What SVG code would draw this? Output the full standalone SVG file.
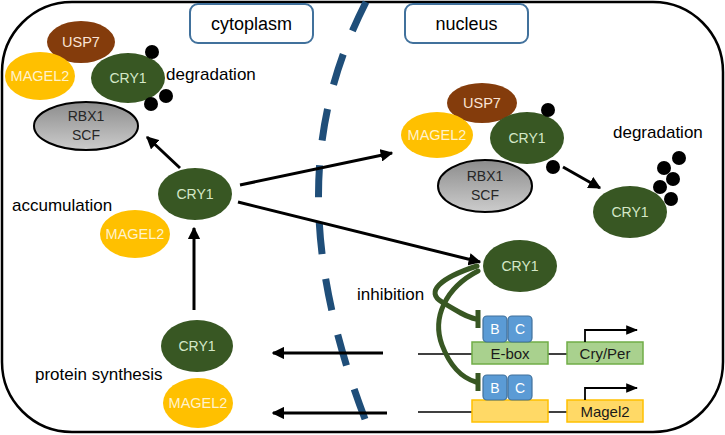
<svg xmlns="http://www.w3.org/2000/svg" width="725" height="435" viewBox="0 0 725 435">
<defs>
<linearGradient id="gray" x1="0" y1="0" x2="0" y2="1">
<stop offset="0" stop-color="#8c8c8c"/>
<stop offset="1" stop-color="#cccccc"/>
</linearGradient>
<marker id="ah" viewBox="0 0 10 10" refX="9" refY="5" markerWidth="4.2" markerHeight="4.2" orient="auto" markerUnits="strokeWidth">
<path d="M0,0 L10,5 L0,10 z" fill="#000"/>
</marker>
<marker id="ah2" viewBox="0 0 10 10" refX="9" refY="5" markerWidth="12" markerHeight="12" orient="auto" markerUnits="userSpaceOnUse">
<path d="M0,1 L10,5 L0,9 z" fill="#000"/>
</marker>
</defs>
<style>
text{font-family:"Liberation Sans",Arial,sans-serif;}
.lbl{font-size:17px;fill:#000;}
.big{font-size:18px;fill:#000;text-anchor:middle;}
.cry ellipse{fill:#385723;}
.cry text{fill:#d5e8c8;font-size:14px;text-anchor:middle;}
.mag ellipse{fill:#ffc000;}
.mag text{fill:#fff2cc;font-size:14.5px;text-anchor:middle;}
.usp ellipse{fill:#843c0c;}
.usp text{fill:#fbe5d6;font-size:14.5px;text-anchor:middle;}
.rbx ellipse{fill:url(#gray);stroke:#000;stroke-width:2;}
.rbx text{fill:#262626;font-size:14px;text-anchor:middle;}
.dot{fill:#000;}
.arr{stroke:#000;stroke-width:3;fill:none;marker-end:url(#ah);}
.dna{stroke:#000;stroke-width:1.5;fill:none;}
.bc rect{fill:#5b9bd5;stroke:#41719c;stroke-width:1.2;}
.bc text{fill:#fff;font-size:14px;text-anchor:middle;}
.gbox rect{fill:#a9d18e;stroke:#70ad47;stroke-width:1.5;}
.obox rect{fill:#ffd966;stroke:#ffc000;stroke-width:1.5;}
.box text{fill:#1a1a1a;font-size:15px;text-anchor:middle;}
.inh{stroke:#385723;stroke-width:5;fill:none;stroke-linecap:round;}
.tbar{stroke:#385723;stroke-width:5;}
.tag rect{fill:#fff;stroke:#41719c;stroke-width:2;}
</style>

<rect id="cell" x="2" y="2" width="721" height="430" rx="70" ry="70" fill="#fff" stroke="#000" stroke-width="2.5"/>

<path id="nuclear-membrane" d="M366 2 C306 120, 298 250, 370 432" fill="none" stroke="#1f4e79" stroke-width="7" stroke-dasharray="32 25"/>

<g id="label-cytoplasm" class="tag"><rect x="190" y="4" width="123" height="39" rx="8"/><text class="big" x="251.5" y="30">cytoplasm</text></g>
<g id="label-nucleus" class="tag"><rect x="405" y="4" width="123" height="39" rx="8"/><text class="big" x="466.5" y="30">nucleus</text></g>

<!-- top-left degradation complex -->
<g id="usp7-a" class="usp"><ellipse cx="81" cy="42" rx="34" ry="21"/><text x="81" y="47">USP7</text></g>
<g id="magel2-a" class="mag"><ellipse cx="40" cy="76" rx="35" ry="24"/><text x="40" y="81">MAGEL2</text></g>
<g id="cry1-a" class="cry"><ellipse cx="128" cy="78" rx="37" ry="25"/><text x="128" y="83">CRY1</text></g>
<g id="rbx1-a" class="rbx"><ellipse cx="86" cy="126" rx="52" ry="24"/><text x="86" y="121">RBX1</text><text x="86" y="140">SCF</text></g>
<g id="ub-a"><circle class="dot" cx="152" cy="52" r="7"/><circle class="dot" cx="166" cy="96" r="7"/><circle class="dot" cx="151" cy="104" r="7"/></g>
<text class="lbl" x="166" y="80">degradation</text>

<!-- middle cytoplasm -->
<g id="cry1-mid" class="cry"><ellipse cx="195" cy="194" rx="37" ry="26"/><text x="195" y="199">CRY1</text></g>
<g id="magel2-mid" class="mag"><ellipse cx="135" cy="234" rx="35" ry="24"/><text x="135" y="239">MAGEL2</text></g>
<text class="lbl" x="12" y="211">accumulation</text>

<!-- synthesis -->
<g id="cry1-syn" class="cry"><ellipse cx="197" cy="346" rx="36" ry="26"/><text x="197" y="351">CRY1</text></g>
<g id="magel2-syn" class="mag"><ellipse cx="198" cy="403" rx="35" ry="25"/><text x="198" y="408">MAGEL2</text></g>
<text class="lbl" x="35" y="380">protein synthesis</text>

<!-- nucleus degradation complex -->
<g id="usp7-b" class="usp"><ellipse cx="482" cy="103" rx="35" ry="20"/><text x="482" y="108">USP7</text></g>
<g id="magel2-b" class="mag"><ellipse cx="437" cy="135" rx="36" ry="23"/><text x="437" y="140">MAGEL2</text></g>
<g id="cry1-b" class="cry"><ellipse cx="527" cy="138" rx="37" ry="26"/><text x="527" y="143">CRY1</text></g>
<g id="rbx1-b" class="rbx"><ellipse cx="485" cy="186" rx="47" ry="26"/><text x="485" y="181">RBX1</text><text x="485" y="200">SCF</text></g>
<g id="ub-b"><circle class="dot" cx="548" cy="110" r="7"/><circle class="dot" cx="553" cy="167" r="7"/></g>
<text class="lbl" x="613" y="138">degradation</text>

<g id="cry1-deg" class="cry"><ellipse cx="630" cy="212" rx="37" ry="26"/><text x="630" y="217">CRY1</text></g>
<g id="ub-c"><circle class="dot" cx="679" cy="158" r="7"/><circle class="dot" cx="664" cy="168" r="7"/><circle class="dot" cx="673" cy="179" r="7"/><circle class="dot" cx="660" cy="187" r="7"/><circle class="dot" cx="671" cy="199" r="7"/></g>

<!-- nucleus CRY1 and genes -->
<g id="cry1-nuc" class="cry"><ellipse cx="520" cy="266" rx="37" ry="26"/><text x="520" y="271">CRY1</text></g>
<text class="lbl" x="357" y="300">inhibition</text>

<g id="dna-lines">
<line class="dna" x1="418" y1="354" x2="472" y2="354"/>
<line class="dna" x1="548" y1="354" x2="567" y2="354"/>
<line class="dna" x1="418" y1="412" x2="472" y2="412"/>
<line class="dna" x1="548" y1="412" x2="567" y2="412"/>
</g>
<g id="ebox" class="box gbox"><rect x="472" y="342" width="76" height="22"/><text x="510" y="359">E-box</text></g>
<g id="cryper" class="box gbox"><rect x="567" y="342" width="76" height="22"/><text x="605" y="359">Cry/Per</text></g>
<g id="magel2-enh" class="box obox"><rect x="472" y="400" width="76" height="22"/></g>
<g id="magel2-gene" class="box obox"><rect x="567" y="400" width="76" height="22"/><text x="605" y="417">Magel2</text></g>
<g id="bc-top" class="bc"><rect x="483" y="316" width="24" height="26" rx="4"/><rect x="508" y="316" width="24" height="26" rx="4"/><text x="495" y="334">B</text><text x="520" y="334">C</text></g>
<g id="bc-bot" class="bc"><rect x="483" y="375" width="24" height="25" rx="4"/><rect x="508" y="375" width="24" height="25" rx="4"/><text x="495" y="393">B</text><text x="520" y="393">C</text></g>

<g id="connectors">
<line class="arr" x1="180" y1="168" x2="147" y2="137"/>
<line class="arr" x1="240" y1="185" x2="392" y2="153"/>
<line class="arr" x1="238" y1="202" x2="480" y2="262"/>
<line class="arr" x1="194" y1="310" x2="194" y2="228"/>
<line class="arr" x1="563" y1="167" x2="600" y2="188"/>
<line class="arr" x1="383" y1="353" x2="273" y2="353"/>
<line class="arr" x1="387" y1="413" x2="273" y2="413"/>
<path d="M585 342 V330 H637" stroke="#000" stroke-width="1.8" fill="none" marker-end="url(#ah2)"/>
<path d="M585 400 V388 H637" stroke="#000" stroke-width="1.8" fill="none" marker-end="url(#ah2)"/>
<path class="inh" d="M477 266 C440 278, 425 292, 442 302 C455 310, 466 317, 476 319"/>
<path class="inh" d="M478 271 C445 288, 432 318, 442 345 C450 366, 462 378, 476 382"/>
<line class="tbar" x1="478" y1="310" x2="478" y2="328"/>
<line class="tbar" x1="478" y1="373" x2="478" y2="391"/>
</g>
</svg>
